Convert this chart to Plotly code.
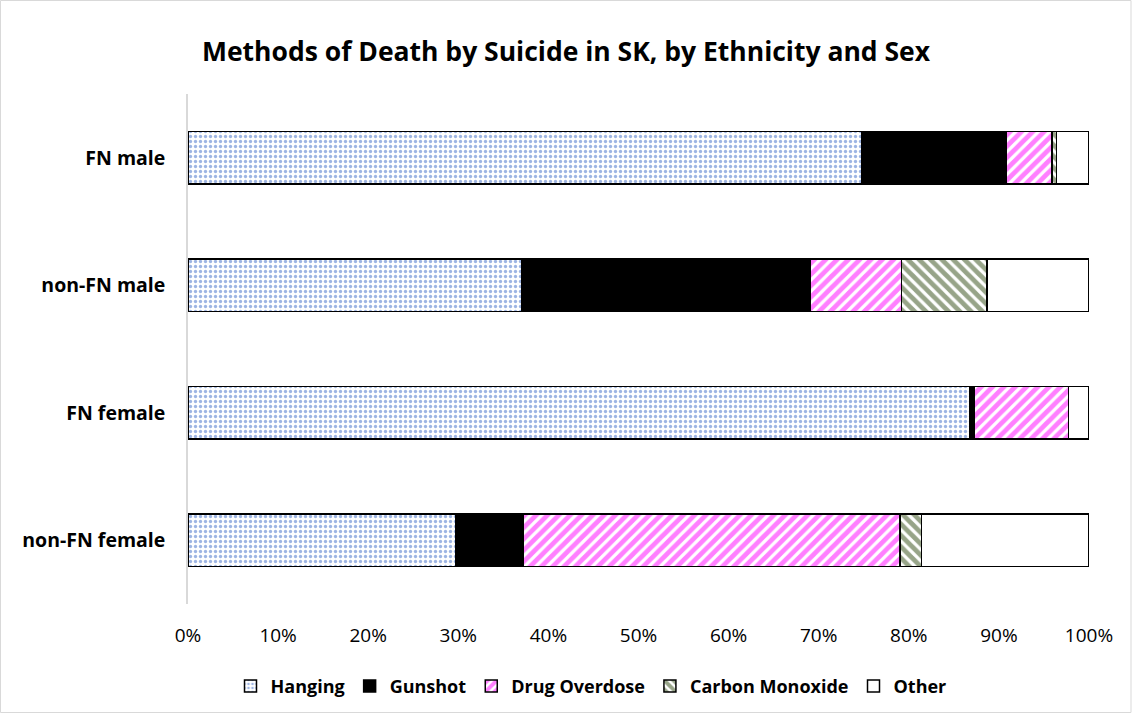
import plotly.graph_objects as go

categories = ["FN male", "non-FN male", "FN female", "non-FN female"]
hanging = [74.8, 37.0, 86.8, 29.7]
gunshot = [16.0, 32.1, 0.5, 7.5]
drug_overdose = [5.1, 10.1, 10.4, 41.8]
carbon_monoxide = [0.5, 9.5, 0.0, 2.4]
other = [3.6, 11.3, 2.3, 18.6]
tick_vals = [0, 10, 20, 30, 40, 50, 60, 70, 80, 90, 100]
tick_text = [f"{v}%" for v in tick_vals]

FONT = "Open Sans"
series = [
    ("Hanging", hanging, dict(color="white", pattern=dict(shape=".", fgcolor="#3d6bc8", bgcolor="white", size=5, solidity=0.35))),
    ("Gunshot", gunshot, dict(color="black")),
    ("Drug Overdose", drug_overdose, dict(color="white", pattern=dict(shape="/", fgcolor="#ff00ff", bgcolor="white", size=8, solidity=0.6))),
    ("Carbon Monoxide", carbon_monoxide, dict(color="white", pattern=dict(shape="\\", fgcolor="#2f4a12", bgcolor="white", size=8, solidity=0.6))),
    ("Other", other, dict(color="white")),
]

fig = go.Figure()
for name, vals, mk in series:
    mk = dict(mk)
    mk["line"] = dict(color="black", width=1.5)
    fig.add_trace(go.Bar(
        name=f"<b>{name}</b>", y=categories, x=vals, orientation="h", marker=mk,
        hovertemplate="%{y}: %{x}%<extra>" + name + "</extra>",
    ))

fig.update_layout(
    barmode="stack",
    bargap=0.585,
    width=1132, height=713,
    margin=dict(l=188, r=43, t=94, b=109, autoexpand=False),
    paper_bgcolor="white", plot_bgcolor="white",
    font=dict(family=FONT, color="#000000"),
    title=dict(text="<b>Methods of Death by Suicide in SK, by Ethnicity and Sex</b>",
               x=0.5, xanchor="center", y=0.928, yanchor="middle",
               font=dict(size=26.5, family=FONT, color="black")),
    xaxis=dict(range=[0, 100], tickvals=tick_vals, ticktext=tick_text, automargin=False,
               showgrid=False, zeroline=False, showline=False,
               tickfont=dict(size=19, family=FONT, color="black"), ticks="", ticklabelstandoff=18),
    yaxis=dict(autorange="reversed", showgrid=False, zeroline=False, automargin=False,
               showline=True, linecolor="#d9d9d9", linewidth=1.5,
               ticks="", ticklabelstandoff=17,
               tickvals=categories, ticktext=[f"<b>{c}</b>" for c in categories],
               tickfont=dict(size=19.5, family=FONT, color="black")),
    legend=dict(orientation="h", x=(591 - 188) / 901, xanchor="center", y=-0.125, yanchor="top",
                font=dict(size=18, family=FONT, color="black"),
                itemwidth=30, traceorder="normal"),
    shapes=[dict(type="rect", xref="paper", yref="paper",
                 x0=-187.5/901, x1=1 + 42/901, y0=-108.5/510, y1=1 + 93.5/510,
                 line=dict(color="#d9d9d9", width=1), fillcolor="rgba(0,0,0,0)")],
)
fig.write_html("out.html", config={"displayModeBar": False},
               post_script="document.body.style.margin='0';")
